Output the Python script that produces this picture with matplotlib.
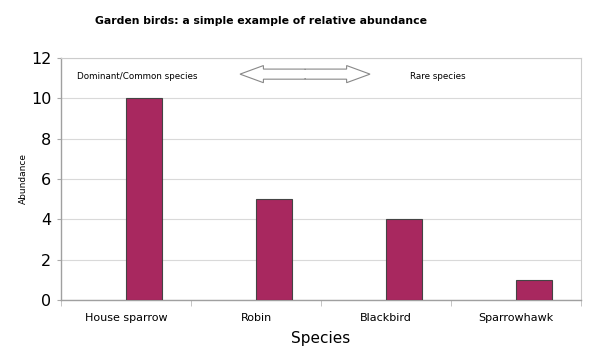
import numpy as np
import matplotlib.pyplot as plt
from matplotlib.patches import FancyArrow

species = ["House sparrow", "Robin", "Blackbird", "Sparrowhawk"]
abundance = [10, 5, 4, 1]
yticks = [0, 2, 4, 6, 8, 10, 12]

bar_color = "#a8285f"

fig = plt.figure(figsize=(6, 3.58), dpi=100)
ax = fig.add_axes([0.1017, 0.162, 0.8666, 0.676])

x = np.arange(len(species))
bw = 0.28
ax.bar(x + bw / 2, abundance, width=bw, color=bar_color,
       edgecolor="#444444", linewidth=0.8, zorder=3)

ax.set_xlim(-0.5, len(species) - 0.5)
ax.set_ylim(0, 12)
ax.set_yticks(yticks)
ax.set_yticklabels([str(v) for v in yticks], fontsize=11.5)
ax.yaxis.grid(True, color="#d9d9d9", linewidth=0.8, zorder=0)

# category labels centred, tick marks at category boundaries
ax.set_xticks(x)
ax.set_xticklabels(species, fontsize=8)
ax.tick_params(axis="x", length=0, pad=9)
ax.set_xticks(np.arange(len(species) + 1) - 0.5, minor=True)
ax.tick_params(axis="x", which="minor", length=4, color="#bbbbbb")
ax.tick_params(axis="y", length=3, color="#aaaaaa", pad=4)

for s in ["top", "right"]:
    ax.spines[s].set_color("#cccccc")
for s in ["left", "bottom"]:
    ax.spines[s].set_color("#a0a0a0")
    ax.spines[s].set_linewidth(1.0)

ax.set_xlabel("Species", fontsize=11, labelpad=6)
ax.set_ylabel("Abundance", fontsize=6.5, labelpad=2)

fig.suptitle("Garden birds: a simple example of relative abundance",
             x=0.435, y=0.955, fontsize=7.8, fontweight="bold")

# annotations in the top band
ax.text(-0.377, 11.1, "Dominant/Common species", fontsize=6.3, va="center")
ax.text(2.185, 11.1, "Rare species", fontsize=6.3, va="center")
y_arr = 11.2
ax.add_patch(FancyArrow(1.377, y_arr, 0.5, 0, width=0.5, head_width=0.85,
                        head_length=0.18, length_includes_head=True,
                        facecolor="white", edgecolor="#888888",
                        linewidth=0.8, zorder=4))
ax.add_patch(FancyArrow(1.377, y_arr, -0.5, 0, width=0.5, head_width=0.85,
                        head_length=0.18, length_includes_head=True,
                        facecolor="white", edgecolor="#888888",
                        linewidth=0.8, zorder=4))
# hide the seam between the two halves
ax.plot([1.377, 1.377], [y_arr - 0.19, y_arr + 0.19], color="white",
        linewidth=1.6, solid_capstyle="butt", zorder=5)

fig.savefig("out.png", dpi=100)
